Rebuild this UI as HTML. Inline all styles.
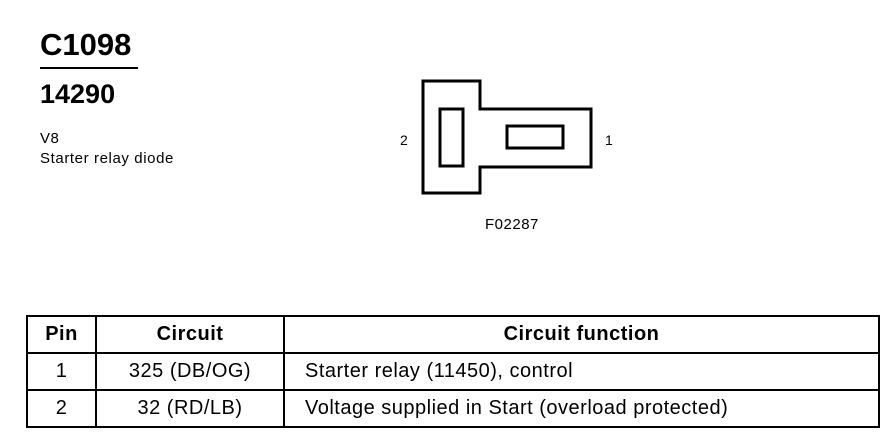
<!DOCTYPE html>
<html><head><style>
body{margin:0;width:892px;height:448px;background:#fff;position:relative;font-family:"Liberation Sans",Arial,sans-serif;color:#000;overflow:hidden}
.a{position:absolute;white-space:nowrap}
table{position:absolute;left:26px;top:315px;border-collapse:collapse}
td{border:2px solid #000;text-align:center;font-size:20px;letter-spacing:0.5px;height:35px;padding:0}
</style></head><body>
<div class="a" style="left:40px;top:27px;font-size:31px;font-weight:bold">C1098</div>
<div class="a" style="left:40px;top:67px;width:98px;height:2px;background:#000"></div>
<div class="a" style="left:40px;top:79px;font-size:27px;font-weight:bold">14290</div>
<div class="a" style="left:40px;top:130px;font-size:15px;letter-spacing:0.5px">V8</div>
<div class="a" style="left:40px;top:150px;font-size:15px;letter-spacing:0.6px">Starter relay diode</div>
<div class="a" style="left:400px;top:132px;font-size:14px">2</div>
<div class="a" style="left:605px;top:132px;font-size:14px">1</div>
<div class="a" style="left:485px;top:216px;font-size:15px;letter-spacing:0.5px">F02287</div>
<svg class="a" style="left:0;top:0" width="892" height="448">
<path d="M423 81 H480 V109 H591 V167 H480 V193 H423 Z" fill="none" stroke="#000" stroke-width="3"/>
<rect x="440" y="109" width="23" height="57" fill="none" stroke="#000" stroke-width="3"/>
<rect x="507" y="126" width="56" height="22" fill="none" stroke="#000" stroke-width="3"/>
</svg>
<table>
<tr><td style="width:67px;font-weight:bold">Pin</td><td style="width:186px;font-weight:bold">Circuit</td><td style="width:593px;font-weight:bold">Circuit function</td></tr>
<tr><td>1</td><td>325 (DB/OG)</td><td style="text-align:left;padding-left:20px">Starter relay (11450), control</td></tr>
<tr><td>2</td><td>32 (RD/LB)</td><td style="text-align:left;padding-left:20px">Voltage supplied in Start (overload protected)</td></tr>
</table>
</body></html>
